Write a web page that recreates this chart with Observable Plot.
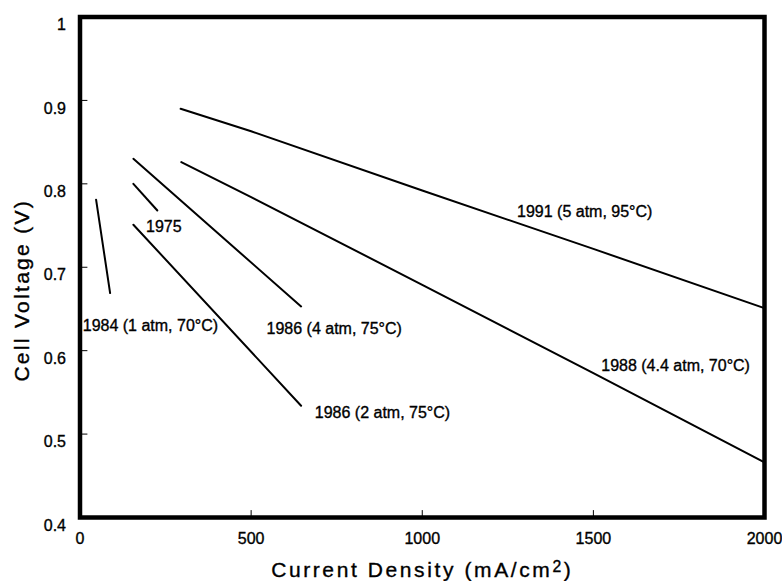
<!DOCTYPE html>
<html>
<head>
<meta charset="utf-8">
<script src="https://cdn.jsdelivr.net/npm/d3@7"></script>
<script src="https://cdn.jsdelivr.net/npm/@observablehq/plot@0.6"></script>
<style>
  body { margin: 0; background: #fff; }
  #chart svg text { stroke: #000; stroke-width: 0.35px; }
</style>
</head>
<body>
<div id="chart"></div>
<script>
// ---- Data ----
const xTicks = [0, 500, 1000, 1500, 2000];
const yTicks = [0.4, 0.5, 0.6, 0.7, 0.8, 0.9, 1.0];

const x1975 = [156, 226];
const v1975 = [0.800, 0.768];
const x1984 = [47, 88];
const v1984 = [0.781, 0.669];
const x1986a = [156, 646];            // 1986 (4 atm, 75°C)
const v1986a = [0.830, 0.653];
const x1986b = [156, 646];            // 1986 (2 atm, 75°C)
const v1986b = [0.751, 0.534];
const x1988 = [296, 500, 1000, 1500, 2000];
const v1988 = [0.826, 0.784, 0.679, 0.573, 0.466];
const x1991 = [294, 500, 1000, 1500, 2000];
const v1991 = [0.890, 0.863, 0.792, 0.722, 0.651];

const seriesNames = ["1975", "1984", "1986a", "1986b", "1988", "1991"];
const seriesX = [x1975, x1984, x1986a, x1986b, x1988, x1991];
const seriesV = [v1975, v1984, v1986a, v1986b, v1988, v1991];

const labelTexts = ["1975", "1984 (1 atm, 70°C)", "1986 (4 atm, 75°C)", "1986 (2 atm, 75°C)", "1988 (4.4 atm, 70°C)", "1991 (5 atm, 95°C)"];
const labelX = [193, 8, 545, 686, 1523, 1277];
const labelV = [0.749, 0.630, 0.626, 0.525, 0.582, 0.766];

const xTitle = "Current Density (mA/cm2)";
const yTitle = "Cell Voltage (V)";

// ---- Build tables ----
const lineData = [];
seriesNames.forEach((name, i) => {
  seriesX[i].forEach((x, j) => lineData.push({series: name, x, v: seriesV[i][j]}));
});
const labels = labelTexts.map((t, i) => ({text: t, x: labelX[i], v: labelV[i]}));

const tickShape = {draw(context, l) { context.moveTo(0, 0); context.lineTo(0, -l); }};
const font = "'Liberation Sans', Arial, Helvetica, sans-serif";

const chart = Plot.plot({
  width: 782,
  height: 581,
  marginLeft: 79.5,
  marginRight: 18,
  marginTop: 16.5,
  marginBottom: 64,
  style: {fontFamily: font, background: "white", color: "black", overflow: "visible"},
  x: {domain: [0, 2000]},
  y: {domain: [0.4, 1]},
  marks: [
    Plot.axisX(xTicks, {tickSize: 0, tickPadding: 15, fontSize: 16, label: null, tickFormat: d => String(d)}),
    Plot.axisY(yTicks, {tickSize: 0, tickPadding: 14, fontSize: 16, dy: 8, label: null, tickFormat: d => d === 1 ? "1" : d.toFixed(1)}),
    Plot.vector(xTicks, {x: d => d, frameAnchor: "bottom", length: 7, rotate: 0, anchor: "start", shape: tickShape, stroke: "black", strokeWidth: 1}),
    Plot.vector(yTicks, {y: d => d, frameAnchor: "left", length: 7, rotate: 90, anchor: "start", shape: tickShape, stroke: "black", strokeWidth: 1}),
    Plot.line(lineData, {x: "x", y: "v", z: "series", stroke: "black", strokeWidth: 2}),
    Plot.text(labels, {x: "x", y: "v", text: "text", textAnchor: "start", fontSize: 16, fill: "black"}),
    Plot.text([xTitle], {frameAnchor: "bottom", lineAnchor: "middle", textAnchor: "middle", dy: 53, fontSize: 21, fill: "black"}),
    Plot.text([yTitle], {frameAnchor: "left", lineAnchor: "middle", textAnchor: "middle", rotate: -90, dx: -58, dy: 23, fontSize: 21, fill: "black"}),
    Plot.frame({stroke: "black", strokeWidth: 4.5})
  ]
});

// superscript 2 in the x title, letter spacing on the axis titles
chart.querySelectorAll("text").forEach(t => {
  const s = t.textContent;
  if (s === xTitle) {
    t.textContent = "";
    const ns = "http://www.w3.org/2000/svg";
    const a = document.createElementNS(ns, "tspan");
    a.textContent = "Current Density (mA/cm";
    const b = document.createElementNS(ns, "tspan");
    b.textContent = "2";
    b.setAttribute("dy", "-0.35em");
    b.setAttribute("font-size", "0.75em");
    const c = document.createElementNS(ns, "tspan");
    c.textContent = ")";
    c.setAttribute("dy", "0.26em");
    t.append(a, b, c);
    t.setAttribute("letter-spacing", "2.6");
  } else if (s === yTitle) {
    t.setAttribute("letter-spacing", "2.3");
  }
});

document.getElementById("chart").append(chart);
</script>
</body>
</html>
